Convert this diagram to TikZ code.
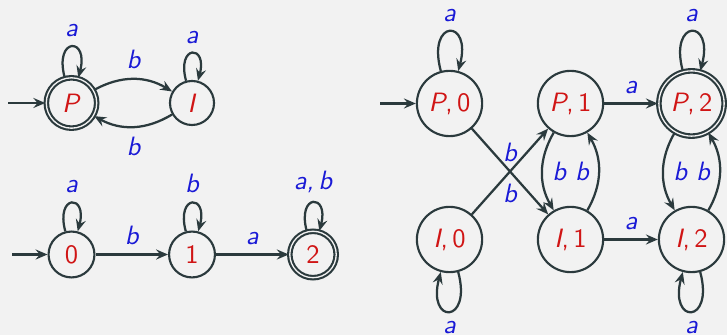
\documentclass[tikz,border=0pt]{standalone}
\usetikzlibrary{automata,arrows.meta}
\definecolor{bgc}{HTML}{F2F2F2}
\definecolor{ln}{HTML}{2B3A3D}
\definecolor{lbl}{HTML}{1A1AD6}
\definecolor{st}{HTML}{D01515}
\begin{document}
\begin{tikzpicture}[x=0.377pt,y=0.377pt,
  >={Stealth[length=4.5pt,width=3.8pt,inset=1.6pt]},
  every state/.style={draw=ln, line width=0.8pt, text=st, font=\sffamily, inner sep=0pt},
  acc/.style={double=bgc, double distance=0.5pt},
  edge/.style={draw=ln, line width=0.85pt, ->},
  lab/.style={text=lbl, font=\sffamily\itshape},
  every loop/.style={},
]
\fill[bgc] (0,0) rectangle (727,335);
\useasboundingbox (0,0) rectangle (727,335);

% left top automaton
\node[state,acc,minimum size=19pt] (P) at (71.5,232) {\textit{P}};
\node[state,minimum size=16.6pt] (I) at (192,232) {\textit{I}};
\coordinate (s1) at (8,232);
\draw[edge] (s1) -- (P);
\draw[edge] (P) to[loop above] node[lab,above] {a} (P);
\draw[edge] (I) to[loop above] node[lab,above] {a} (I);
\draw[edge] (P) to[bend left=30] node[lab,auto] {b} (I);
\draw[edge] (I) to[bend left=30] node[lab,auto] {b} (P);

% left bottom automaton
\node[state,minimum size=17.3pt] (n0) at (71.5,80.5) {0};
\node[state,minimum size=17.3pt] (n1) at (192,80.5) {1};
\node[state,acc,minimum size=17.5pt] (n2) at (313,80.5) {2};
\coordinate (s2) at (12,80.5);
\draw[edge] (s2) -- (n0);
\draw[edge] (n0) to[loop above] node[lab,above] {a} (n0);
\draw[edge] (n1) to[loop above] node[lab,above] {b} (n1);
\draw[edge] (n2) to[loop above] node[lab,above] {a,\,b} (n2);
\draw[edge] (n0) -- node[lab,auto] {b} (n1);
\draw[edge] (n1) -- node[lab,auto] {a} (n2);

% right product automaton
\node[state,minimum size=24.6pt] (P0) at (449.5,231.5) {\textit{P},\,0};
\node[state,minimum size=24.6pt] (P1) at (570.5,231.5) {\textit{P},\,1};
\node[state,acc,minimum size=24.6pt] (P2) at (691.5,231.5) {\textit{P},\,2};
\node[state,minimum size=24.6pt] (I0) at (449.5,95.5) {\textit{I},\,0};
\node[state,minimum size=24.6pt] (I1) at (570.5,95.5) {\textit{I},\,1};
\node[state,minimum size=24.6pt] (I2) at (691.5,95.5) {\textit{I},\,2};
\coordinate (s3) at (380,231.5);
\draw[edge] (s3) -- (P0);
\draw[edge] (P0) to[loop above] node[lab,above] {a} (P0);
\draw[edge] (P2) to[loop above] node[lab,above] {a} (P2);
\draw[edge] (I0) to[loop below] node[lab,below] {a} (I0);
\draw[edge] (I2) to[loop below] node[lab,below] {a} (I2);
\draw[edge] (P0) -- node[lab,below=1pt] {b} (I1);
\draw[edge] (I0) -- node[lab,above=0pt] {b} (P1);
\draw[edge] (P1) -- node[lab,auto] {a} (P2);
\draw[edge] (I1) -- node[lab,auto] {a} (I2);
\draw[edge] (P1) to[bend right=30] node[lab,auto] {b} (I1);
\draw[edge] (I1) to[bend right=30] node[lab,auto] {b} (P1);
\draw[edge] (P2) to[bend right=30] node[lab,auto] {b} (I2);
\draw[edge] (I2) to[bend right=30] node[lab,auto] {b} (P2);
\end{tikzpicture}
\end{document}
